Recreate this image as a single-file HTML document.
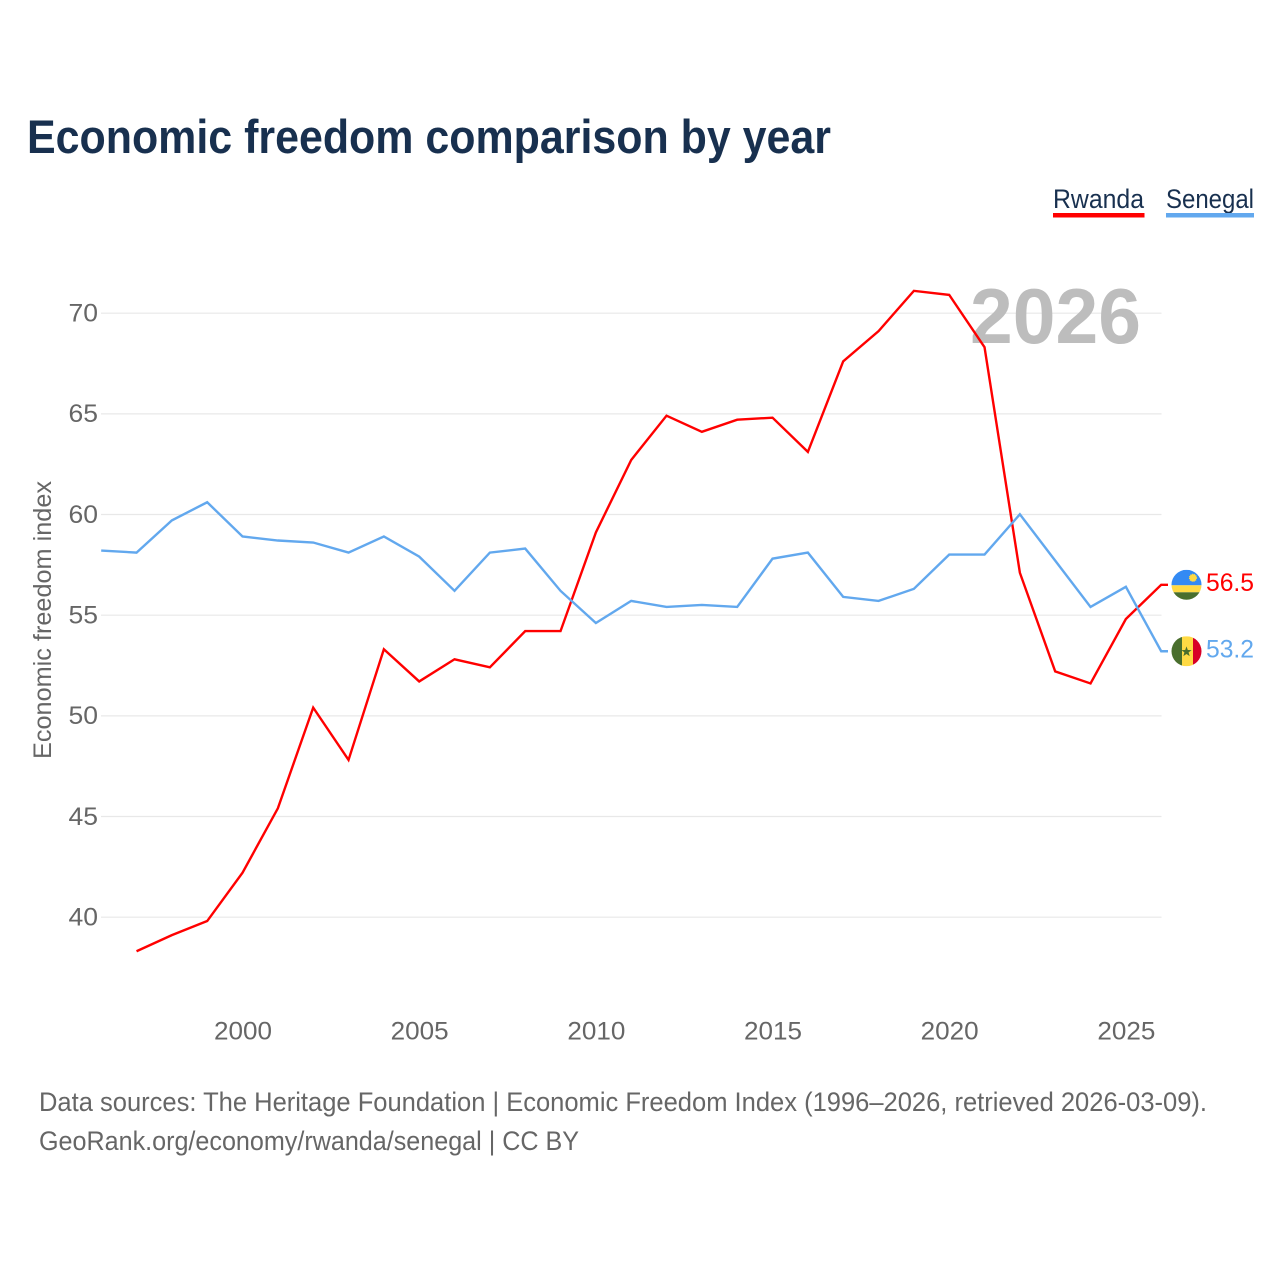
<!DOCTYPE html>
<html lang="en">
<head>
<meta charset="utf-8">
<title>Economic freedom comparison by year</title>
<style>
html,body{margin:0;padding:0;background:#fff;}
svg{display:block;font-family:"Liberation Sans",sans-serif;}
</style>
</head>
<body>
<svg id="chart" xmlns="http://www.w3.org/2000/svg" width="1280" height="1280" viewBox="0 0 1280 1280">
  <rect width="1280" height="1280" fill="#fff"/>
  <text x="27" y="153" font-size="47" font-weight="bold" fill="#18304f" textLength="804" lengthAdjust="spacingAndGlyphs">Economic freedom comparison by year</text>

  <g>
    <text x="1053" y="208" font-size="27" fill="#18304f" textLength="91" lengthAdjust="spacingAndGlyphs">Rwanda</text>
    <rect x="1053" y="213" width="91.5" height="4.5" fill="#ff0000"/>
  </g>
  <g>
    <text x="1166" y="208" font-size="27" fill="#18304f" textLength="88" lengthAdjust="spacingAndGlyphs">Senegal</text>
    <rect x="1166" y="213" width="88" height="4.5" fill="#62a8ee"/>
  </g>

  <g id="grid"></g>
  <text x="1141" y="343" text-anchor="end" font-size="78" font-weight="bold" fill="#bdbdbd" textLength="171" lengthAdjust="spacingAndGlyphs">2026</text>
  <g id="yticks"></g>
  <g id="xticks"></g>
  <text transform="translate(51,759) rotate(-90)" font-size="25" fill="#666" textLength="278" lengthAdjust="spacingAndGlyphs">Economic freedom index</text>
  <g id="series"></g>

  <defs>
    <clipPath id="flag-clip-rw"><circle id="clip-rw" cx="1186.5" r="15"/></clipPath>
    <clipPath id="flag-clip-sn"><circle id="clip-sn" cx="1186.5" r="15"/></clipPath>
  </defs>
  <g id="flag-rw" clip-path="url(#flag-clip-rw)"></g>
  <g id="flag-sn" clip-path="url(#flag-clip-sn)"></g>
  <text id="value-rw" x="1206" font-size="25" fill="#ff0000" textLength="48" lengthAdjust="spacingAndGlyphs"></text>
  <text id="value-sn" x="1206" font-size="25" fill="#62a8ee" textLength="48" lengthAdjust="spacingAndGlyphs"></text>

  <text x="39" y="1111" font-size="27" fill="#666" textLength="1168" lengthAdjust="spacingAndGlyphs">Data sources: The Heritage Foundation | Economic Freedom Index (1996–2026, retrieved 2026-03-09).</text>
  <text x="39" y="1150" font-size="27" fill="#666" textLength="540" lengthAdjust="spacingAndGlyphs">GeoRank.org/economy/rwanda/senegal | CC BY</text>
</svg>
<script>
const rwandaYears = [1997,1998,1999,2000,2001,2002,2003,2004,2005,2006,2007,2008,2009,2010,2011,2012,2013,2014,2015,2016,2017,2018,2019,2020,2021,2022,2023,2024,2025,2026];
const rwandaValues = [38.3,39.1,39.8,42.2,45.4,50.4,47.8,53.3,51.7,52.8,52.4,54.2,54.2,59.1,62.7,64.9,64.1,64.7,64.8,63.1,67.6,69.1,71.1,70.9,68.3,57.1,52.2,51.6,54.8,56.5];
const senegalYears = [1996,1997,1998,1999,2000,2001,2002,2003,2004,2005,2006,2007,2008,2009,2010,2011,2012,2013,2014,2015,2016,2017,2018,2019,2020,2021,2022,2023,2024,2025,2026];
const senegalValues = [58.2,58.1,59.7,60.6,58.9,58.7,58.6,58.1,58.9,57.9,56.2,58.1,58.3,56.2,54.6,55.7,55.4,55.5,55.4,57.8,58.1,55.9,55.7,56.3,58,58,60,57.7,55.4,56.4,53.2];
const yTickValues = [40,45,50,55,60,65,70];
const xTickValues = [2000,2005,2010,2015,2020,2025];

const NS = 'http://www.w3.org/2000/svg';
const xScale = function (year) { return 101.2 + (year - 1996) * (1161.2 - 101.2) / 30; };
const yScale = function (value) { return 917 - (value - 40) * (917 - 313) / 30; };

function make(tag, attrs, parent) {
  const el = document.createElementNS(NS, tag);
  Object.keys(attrs).forEach(function (k) { el.setAttribute(k, attrs[k]); });
  parent.appendChild(el);
  return el;
}

const grid = document.getElementById('grid');
const yticks = document.getElementById('yticks');
yTickValues.forEach(function (v) {
  const line = make('line', {x1: 101, x2: 1161.5, y1: yScale(v) + 0.2, y2: yScale(v) + 0.2, stroke: '#e8e8e8', 'stroke-width': 1.2}, grid);
  
  
  const label = make('text', {x: 98, y: yScale(v) + 8.5, 'text-anchor': 'end', 'font-size': 25, fill: '#666', textLength: 29.5, lengthAdjust: 'spacingAndGlyphs'}, yticks);
  label.textContent = String(v);
  
  
});

const xticks = document.getElementById('xticks');
xTickValues.forEach(function (v) {
  const label = make('text', {x: xScale(v) + 0.5, y: 1039.5, 'text-anchor': 'middle', 'font-size': 25, fill: '#666', textLength: 58, lengthAdjust: 'spacingAndGlyphs'}, xticks);
  label.textContent = String(v);
  
  
});

const seriesGroup = document.getElementById('series');
function drawSeries(years, values, color, key) {
  const pts = years.map(function (y, i) { return xScale(y).toFixed(2) + ',' + yScale(values[i]).toFixed(2); });
  const lastY = yScale(values[values.length - 1]);
  pts.push('1168,' + lastY.toFixed(2));
  const line = make('polyline', {points: pts.join(' '), fill: 'none', stroke: color, 'stroke-width': 2.4, 'stroke-linejoin': 'miter'}, seriesGroup);
  
  
  return lastY;
}
const rwY = drawSeries(rwandaYears, rwandaValues, '#ff0000', 'rwanda');
const snY = drawSeries(senegalYears, senegalValues, '#62a8ee', 'senegal');

const rwLast = rwandaValues[rwandaValues.length - 1];
const snLast = senegalValues[senegalValues.length - 1];
const valueRw = document.getElementById('value-rw');
valueRw.textContent = rwLast.toFixed(1);
valueRw.setAttribute('y', rwY + 6);
const valueSn = document.getElementById('value-sn');
valueSn.textContent = snLast.toFixed(1);
valueSn.setAttribute('y', snY + 6.5);

document.getElementById('clip-rw').setAttribute('cy', rwY);
document.getElementById('clip-sn').setAttribute('cy', snY);

const flagRw = document.getElementById('flag-rw');
make('rect', {x: 1171, y: rwY - 15, width: 31, height: 15.5, fill: '#338af3'}, flagRw);
make('rect', {x: 1171, y: rwY + 0.5, width: 31, height: 7, fill: '#ffda44'}, flagRw);
make('rect', {x: 1171, y: rwY + 7.5, width: 31, height: 8, fill: '#496e2d'}, flagRw);
make('circle', {cx: 1193, cy: rwY - 7, r: 3.6, fill: '#ffda44', stroke: '#ffda44', 'stroke-width': 1, 'stroke-dasharray': '1 1'}, flagRw);

const flagSn = document.getElementById('flag-sn');
make('rect', {x: 1171, y: snY - 15, width: 11, height: 30, fill: '#496e2d'}, flagSn);
make('rect', {x: 1182, y: snY - 15, width: 11, height: 30, fill: '#ffda44'}, flagSn);
make('rect', {x: 1193, y: snY - 15, width: 9.5, height: 30, fill: '#d80027'}, flagSn);
const starPts = [];
for (let i = 0; i < 10; i++) {
  const r = i % 2 ? 2.2 : 5.4;
  const a = -Math.PI / 2 + i * Math.PI / 5;
  starPts.push((1186.5 + r * Math.cos(a)).toFixed(2) + ',' + (snY + 0.5 + r * Math.sin(a)).toFixed(2));
}
make('polygon', {points: starPts.join(' '), fill: '#496e2d'}, flagSn);
</script>
</body>
</html>
